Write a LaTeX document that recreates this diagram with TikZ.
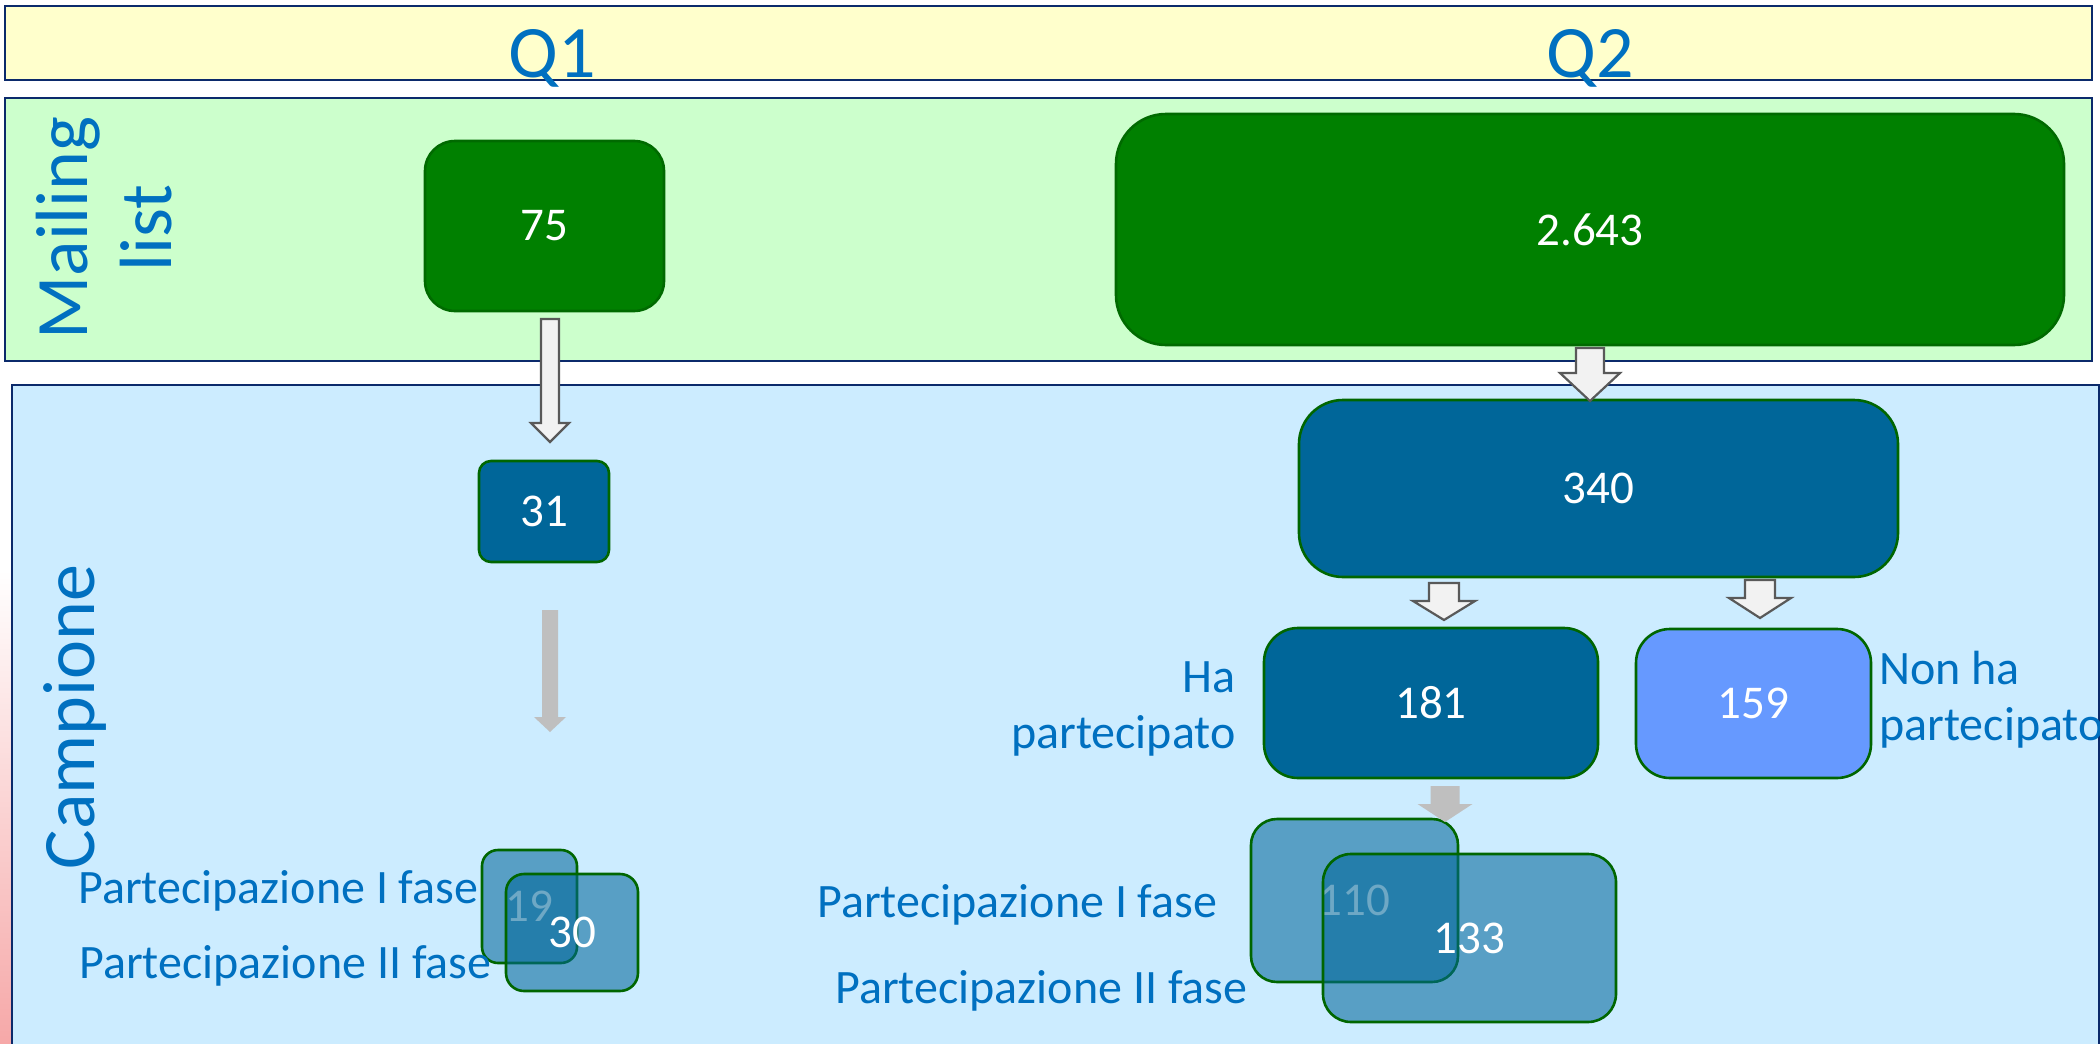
\documentclass[tikz,border=0pt]{standalone}
\usepackage{fontspec}
\setmainfont{Carlito}
\usetikzlibrary{calc}
\definecolor{bandY}{HTML}{FFFFCC}
\definecolor{bandG}{HTML}{CCFFCC}
\definecolor{bandB}{HTML}{CCECFF}
\definecolor{navy}{HTML}{0B2A6B}
\definecolor{qblue}{HTML}{0070C0}
\definecolor{boxgreen}{HTML}{008000}
\definecolor{boxgreenedge}{HTML}{006A00}
\definecolor{tealbox}{HTML}{006699}
\definecolor{lblue}{HTML}{6699FF}
\definecolor{edgegreen}{HTML}{006600}
\definecolor{arrfill}{HTML}{F2F2F2}
\definecolor{arredge}{HTML}{595959}
\definecolor{grayarr}{HTML}{BFBFBF}
\definecolor{stripmid}{HTML}{F3DCC0}
\definecolor{stripbot}{HTML}{F6A8A8}
\newcommand\blockarr[7]{%
  \path[#1] (#2-#6,#3) -- (#2+#6,#3) -- (#2+#6,#4) -- (#2+#7,#4) -- (#2,#5)
    -- (#2-#7,#4) -- (#2-#6,#4) -- cycle;}
\tikzset{
  band/.style={draw=navy, line width=1.1pt},
  numbox/.style={draw=edgegreen, line width=1.3pt, text=white, inner sep=0pt,
    font=\fontsize{23.5}{28}\selectfont},
  greenbox/.style={numbox, fill=boxgreen, draw=boxgreenedge},
  darkbox/.style={numbox, fill=tealbox},
  lightbox/.style={numbox, fill=lblue},
  seebox/.style={numbox, fill=tealbox, fill opacity=0.57, draw opacity=1, text opacity=1},
  whitearr/.style={fill=arrfill, draw=arredge, line width=1.1pt, line join=miter},
  grayarrow/.style={fill=grayarr},
  bigtxt/.style={text=qblue, font=\fontsize{37}{42}\selectfont, inner sep=0pt},
  lbl/.style={text=qblue, font=\fontsize{24}{28}\selectfont, inner sep=0pt},
}
\begin{document}
\begin{tikzpicture}[x=0.5pt,y=-0.5pt]
\useasboundingbox (0,0) rectangle (2100,1044);
% background picture showing at the left edge
\shade[top color=white, middle color=stripmid, bottom color=stripbot] (0,570) rectangle (12,1044);
% bands
\path[band, fill=bandY] (5,6) rectangle (2092,80);
\path[band, fill=bandG] (5,98) rectangle (2092,361);
\path[band, fill=bandB] (12,385) rectangle (2099,1050);
% headings
\node[bigtxt, anchor=base] (q1) at (552,77) {Q1};
\node[bigtxt, anchor=base] (q2) at (1590,77) {Q2};
\node[bigtxt, rotate=90, align=center] (ml) at (104,228) {Mailing\\list};
\node[bigtxt, rotate=90, anchor=base] (camp) at (94,717) {Campione};
% Q1 column
\node[greenbox, rounded corners=15pt, minimum width=119.5pt, minimum height=85pt] (n75) at (544.5,226) {75};
\node[darkbox, rounded corners=6pt, minimum width=65pt, minimum height=50.5pt] (n31) at (544,511.5) {31};
\node[seebox, rounded corners=8pt, minimum width=47.5pt, minimum height=56.5pt] (n19) at (529.5,906.5) {19};
\node[seebox, rounded corners=9pt, minimum width=66pt, minimum height=58.5pt] (n30) at (572,932.5) {30};
\blockarr{whitearr}{550}{319}{423}{442}{9}{19}
\blockarr{grayarrow}{550}{610}{717}{732}{8}{16}
\node[lbl, anchor=base west] (p1a) at (78,903) {Partecipazione I fase};
\node[lbl, anchor=base west] (p2a) at (79,978) {Partecipazione II fase};
% Q2 column
\node[greenbox, rounded corners=25pt, minimum width=474pt, minimum height=115.5pt] (n2643) at (1590,229.5) {2.643};
\node[darkbox, rounded corners=22pt, minimum width=299.5pt, minimum height=88.5pt] (n340) at (1598.5,488.5) {340};
\node[darkbox, rounded corners=17pt, minimum width=167pt, minimum height=75pt] (n181) at (1431,703) {181};
\node[lightbox, rounded corners=17pt, minimum width=117.5pt, minimum height=74.5pt] (n159) at (1753.5,703.5) {159};
\node[seebox, rounded corners=13pt, minimum width=103.5pt, minimum height=81.5pt] (n110) at (1354.5,900.5) {110};
\node[seebox, rounded corners=14pt, minimum width=146.5pt, minimum height=84pt] (n133) at (1469.5,938) {133};
\blockarr{whitearr}{1590}{348}{373}{401}{14}{30}
\blockarr{whitearr}{1444}{583}{601}{620}{15}{31}
\blockarr{whitearr}{1760}{580}{598}{618}{15}{31}
\blockarr{grayarrow}{1445}{786}{804}{822}{14.5}{27.5}
\node[lbl, anchor=base east, align=right] (ha) at (1236,748) {Ha\\partecipato};
\node[lbl, anchor=base west, align=left] (nonha) at (1879,740) {Non ha\\partecipato};
\node[lbl, anchor=base west] (p1b) at (817,917) {Partecipazione I fase};
\node[lbl, anchor=base west] (p2b) at (835,1003) {Partecipazione II fase};
\end{tikzpicture}
\end{document}
